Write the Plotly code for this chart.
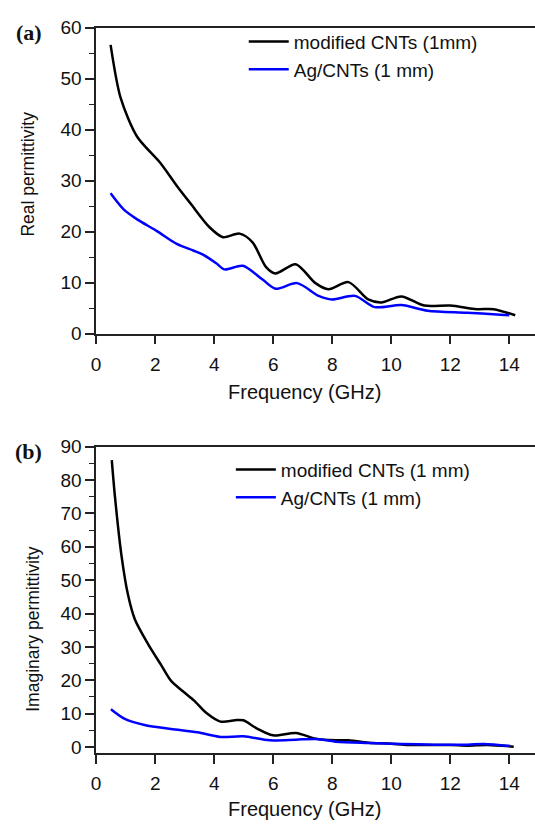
import plotly.graph_objects as go

# ---- Data ----
freq_real_mod = [0.49, 0.83, 1.39, 2.17, 2.73, 3.2, 3.85, 4.3, 4.86, 5.3, 5.75, 6.08, 6.76, 7.43, 7.87, 8.55, 9.22, 9.66, 10.34, 11.12, 12.0, 12.9, 13.47, 14.2]
real_mod = [56.6, 46.2, 38.6, 33.5, 29.0, 25.5, 20.8, 18.9, 19.6, 17.9, 13.1, 11.8, 13.6, 9.9, 8.7, 10.1, 6.7, 6.1, 7.3, 5.5, 5.5, 4.8, 4.8, 3.6]

freq_real_ag = [0.49, 0.94, 1.39, 2.06, 2.73, 3.29, 3.62, 4.07, 4.35, 4.97, 5.64, 6.08, 6.81, 7.54, 7.99, 8.77, 9.44, 10.34, 11.23, 12.57, 13.7, 14.0]
real_ag = [27.5, 24.3, 22.4, 20.1, 17.6, 16.3, 15.5, 13.8, 12.6, 13.3, 10.6, 8.8, 9.9, 7.4, 6.7, 7.4, 5.2, 5.6, 4.5, 4.1, 3.7, 3.6]

freq_imag_mod = [0.53, 0.64, 0.86, 1.08, 1.31, 1.75, 2.2, 2.54, 2.98, 3.32, 3.76, 4.21, 4.77, 4.99, 5.44, 5.99, 6.77, 7.44, 8.12, 8.56, 9.23, 10.0, 10.57, 12.0, 12.58, 13.25, 14.15]
imag_mod = [86.0, 74.8, 57.3, 45.6, 38.3, 31.0, 24.6, 19.8, 16.4, 13.9, 10.0, 7.6, 8.1, 8.0, 5.6, 3.5, 4.2, 2.5, 2.0, 2.0, 1.3, 1.0, 0.6, 0.6, 0.4, 0.6, 0.1]

freq_imag_ag = [0.5, 0.97, 1.64, 2.54, 3.43, 4.21, 4.99, 5.88, 6.77, 7.44, 8.12, 9.23, 10.35, 11.46, 12.58, 13.14, 14.03]
imag_ag = [11.3, 8.4, 6.6, 5.4, 4.4, 3.0, 3.2, 2.0, 2.2, 2.4, 1.6, 1.2, 0.9, 0.7, 0.7, 0.9, 0.3]

x_ticks = [0, 2, 4, 6, 8, 10, 12, 14]

W, H = 535, 834
FONT = "Arial, Liberation Sans, sans-serif"
AX = "#222222"
TF = 19

def py(px):
    return 1 - px / H

def pxx(px):
    return px / W

fig = go.Figure()
fig.add_trace(go.Scatter(x=freq_real_mod, y=real_mod, mode="lines", name="modified CNTs (1mm)",
                         line=dict(color="black", width=2.5, shape="spline", smoothing=0.8),
                         xaxis="x", yaxis="y", legend="legend"))
fig.add_trace(go.Scatter(x=freq_real_ag, y=real_ag, mode="lines", name="Ag/CNTs (1 mm)",
                         line=dict(color="#0000ff", width=2.5, shape="spline", smoothing=0.8),
                         xaxis="x", yaxis="y", legend="legend"))
fig.add_trace(go.Scatter(x=freq_imag_mod, y=imag_mod, mode="lines", name="modified CNTs (1 mm)",
                         line=dict(color="black", width=2.5, shape="spline", smoothing=0.8),
                         xaxis="x2", yaxis="y2", legend="legend2"))
fig.add_trace(go.Scatter(x=freq_imag_ag, y=imag_ag, mode="lines", name="Ag/CNTs (1 mm)",
                         line=dict(color="#0000ff", width=2.5, shape="spline", smoothing=0.8),
                         xaxis="x2", yaxis="y2", legend="legend2"))

xcommon = dict(range=[0, 14.87], tickvals=x_ticks, ticks="outside", ticklen=9, tickwidth=1.5,
               tickcolor=AX, showline=True, linecolor=AX, linewidth=1.5, mirror=True,
               showgrid=False, zeroline=False, tickfont=dict(size=TF, color="#111"),
               ticklabelstandoff=4, domain=[pxx(92), 1.0])

fig.update_layout(
    width=W, height=H,
    margin=dict(l=0, r=0, t=0, b=0),
    paper_bgcolor="white", plot_bgcolor="white",
    font=dict(family=FONT, size=TF, color="#111"),
    xaxis=dict(**xcommon, anchor="y"),
    yaxis=dict(range=[0, 60], dtick=10, ticks="outside", ticklen=9, tickwidth=1.5, tickcolor=AX,
               showline=True, linecolor=AX, linewidth=1.5, showgrid=False, zeroline=False,
               minor=dict(dtick=5, ticks="outside", ticklen=5, tickwidth=1.2, tickcolor=AX),
               tickfont=dict(size=TF, color="#111"), anchor="x",
               domain=[py(332), py(18)]),
    xaxis2=dict(**xcommon, anchor="y2"),
    yaxis2=dict(range=[-1.75, 90], tickvals=[0, 10, 20, 30, 40, 50, 60, 70, 80, 90], ticks="outside",
                ticklen=9, tickwidth=1.5, tickcolor=AX,
                showline=True, linecolor=AX, linewidth=1.5, showgrid=False, zeroline=False,
                minor=dict(tick0=0, dtick=5, ticks="outside", ticklen=5, tickwidth=1.2, tickcolor=AX),
                tickfont=dict(size=TF, color="#111"), anchor="x2",
                domain=[py(762), py(448)]),
    legend=dict(x=pxx(241), y=py(13), xanchor="left", yanchor="top", bgcolor="rgba(0,0,0,0)",
                font=dict(size=TF, color="#111"), itemwidth=40, tracegroupgap=0),
    legend2=dict(x=pxx(228), y=py(452), xanchor="left", yanchor="top", bgcolor="rgba(0,0,0,0)",
                 font=dict(size=TF, color="#111"), itemwidth=40, tracegroupgap=0),
    showlegend=True,
)

annots = [
    dict(text="Frequency (GHz)", x=pxx(302), y=py(392), size=20),
    dict(text="Frequency (GHz)", x=pxx(302), y=py(820), size=20),
    dict(text="Real permittivity", x=pxx(23), y=py(168), textangle=-90, size=17.5),
    dict(text="Imaginary permittivity", x=pxx(28), y=py(635), textangle=-90, size=17.5),
]
for a in annots:
    sz = a.pop("size")
    fig.add_annotation(xref="paper", yref="paper", showarrow=False, xanchor="center", yanchor="middle",
                       font=dict(size=sz, family=FONT, color="#111"), **a)

for lab, yy in [("(a)", 23), ("(b)", 453)]:
    fig.add_annotation(text="<b>%s</b>" % lab, xref="paper", yref="paper", x=pxx(24), y=py(yy),
                       showarrow=False, xanchor="center", yanchor="middle",
                       font=dict(size=22, family="Times New Roman, Liberation Serif, serif", color="#111"))

fig.write_html("out.html")
